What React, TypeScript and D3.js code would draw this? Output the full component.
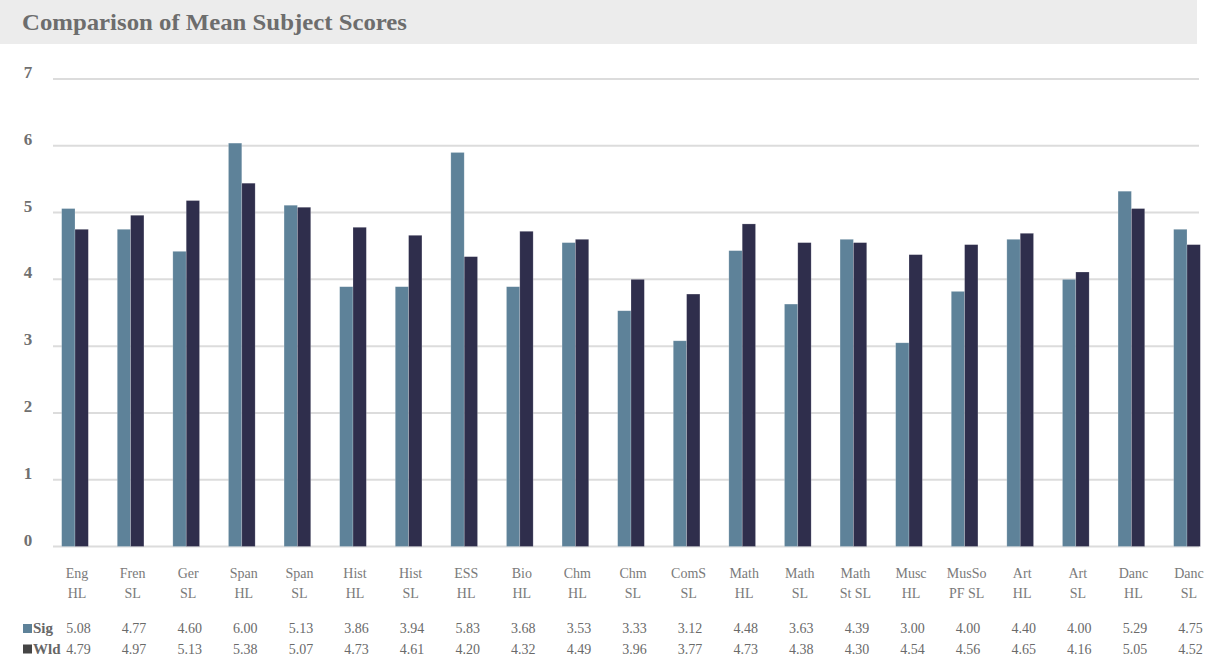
import * as d3 from "d3"

const subjectTop = ["Eng", "Fren", "Ger", "Span", "Span", "Hist", "Hist", "ESS", "Bio", "Chm", "Chm", "ComS", "Math", "Math", "Math", "Musc", "MusSo", "Art", "Art", "Danc", "Danc"]
const subjectBottom = ["HL", "SL", "SL", "HL", "SL", "HL", "SL", "HL", "HL", "HL", "SL", "SL", "HL", "SL", "St SL", "HL", "PF SL", "HL", "SL", "HL", "SL"]

// bar heights as drawn
const sigBars = [5.06, 4.75, 4.42, 6.04, 5.11, 3.89, 3.89, 5.9, 3.89, 4.55, 3.53, 3.08, 4.43, 3.63, 4.6, 3.05, 3.82, 4.6, 4.0, 5.32, 4.75]
const wldBars = [4.75, 4.96, 5.18, 5.44, 5.08, 4.78, 4.66, 4.34, 4.72, 4.6, 4.0, 3.78, 4.83, 4.55, 4.55, 4.37, 4.52, 4.69, 4.11, 5.06, 4.52]

// values printed in the table under the chart
const sigTable = ["5.08", "4.77", "4.60", "6.00", "5.13", "3.86", "3.94", "5.83", "3.68", "3.53", "3.33", "3.12", "4.48", "3.63", "4.39", "3.00", "4.00", "4.40", "4.00", "5.29", "4.75"]
const wldTable = ["4.79", "4.97", "5.13", "5.38", "5.07", "4.73", "4.61", "4.20", "4.32", "4.49", "3.96", "3.77", "4.73", "4.38", "4.30", "4.54", "4.56", "4.65", "4.16", "5.05", "4.52"]

const yTicks = [0, 1, 2, 3, 4, 5, 6, 7]
const seriesKeys = ["Sig", "Wld"]

const W = 1231
const H = 658
const font = "'Liberation Serif', 'Times New Roman', serif"

export default function App() {
  const ids = subjectTop.map((_, i) => String(i))

  const x = d3.scaleBand<string>().domain(ids).range([47.2, 1214.8]).paddingInner(0.52).paddingOuter(0.26)
  const x1 = d3.scaleBand<string>().domain(seriesKeys).range([0, x.bandwidth()])
  const y = d3.scaleLinear().domain([0, 7]).range([546.5, 79])

  const color = d3.scaleOrdinal<string, string>().domain(seriesKeys).range(["#5e8299", "#2f2e4c"])
  const legendColor = d3.scaleOrdinal<string, string>().domain(seriesKeys).range(["#5e8299", "#454545"])

  const rows = ids.map((id, i) => ({ id, sig: sigBars[i], wld: wldBars[i] }))
  const center = (id: string) => (x(id) ?? 0) + x.bandwidth() / 2 + 2

  return (
    <svg width={W} height={H} style={{ position: "absolute", left: 0, top: 0, display: "block" }} fontFamily={font}>
      <rect x={0} y={0} width={W} height={H} fill="#fff" />

      {/* title band */}
      <rect x={0} y={0} width={1197} height={44} fill="#ececec" />
      <text x={22} y={30} fontSize={24} fontWeight="bold" fill="#6d6d6d" textLength={385} lengthAdjust="spacingAndGlyphs">
        Comparison of Mean Subject Scores
      </text>

      {/* gridlines + y labels */}
      {yTicks.map((t) => (
        <g key={t}>
          <line x1={53} x2={1199} y1={y(t)} y2={y(t)} stroke="#dcdcdc" strokeWidth={2} />
          <text x={28} y={y(t) - 1} textAnchor="middle" fontSize={17} fontWeight="bold" fill="#707070">
            {t}
          </text>
        </g>
      ))}

      {/* bars */}
      {rows.map((r) => (
        <g key={r.id} transform={`translate(${x(r.id)},0)`}>
          {seriesKeys.map((k) => {
            const v = k === "Sig" ? r.sig : r.wld
            return (
              <rect
                key={k}
                x={x1(k)}
                y={y(v)}
                width={x1.bandwidth()}
                height={y(0) - y(v)}
                fill={color(k)}
                stroke="#ffffff"
                strokeOpacity={0.35}
                strokeWidth={0.6}
              />
            )
          })}
        </g>
      ))}

      {/* category labels */}
      {ids.map((id, i) => (
        <text key={id} x={center(id)} textAnchor="middle" fontSize={14} fill="#7a7a7a">
          <tspan x={center(id)} y={578}>{subjectTop[i]}</tspan>
          <tspan x={center(id)} y={598}>{subjectBottom[i]}</tspan>
        </text>
      ))}

      {/* table rows */}
      {seriesKeys.map((k, j) => {
        const rowY = 633 + j * 20.5
        const vals = k === "Sig" ? sigTable : wldTable
        return (
          <g key={k}>
            <rect x={23} y={rowY - 9} width={9} height={9} fill={legendColor(k)} />
            <text x={33} y={rowY} fontSize={15} fontWeight="bold" fill="#666">
              {k}
            </text>
            {ids.map((id, i) => (
              <text key={id} x={center(id) + 1.5} y={rowY} textAnchor="middle" fontSize={14} fill="#6a6a6a">
                {vals[i]}
              </text>
            ))}
          </g>
        )
      })}
    </svg>
  )
}
